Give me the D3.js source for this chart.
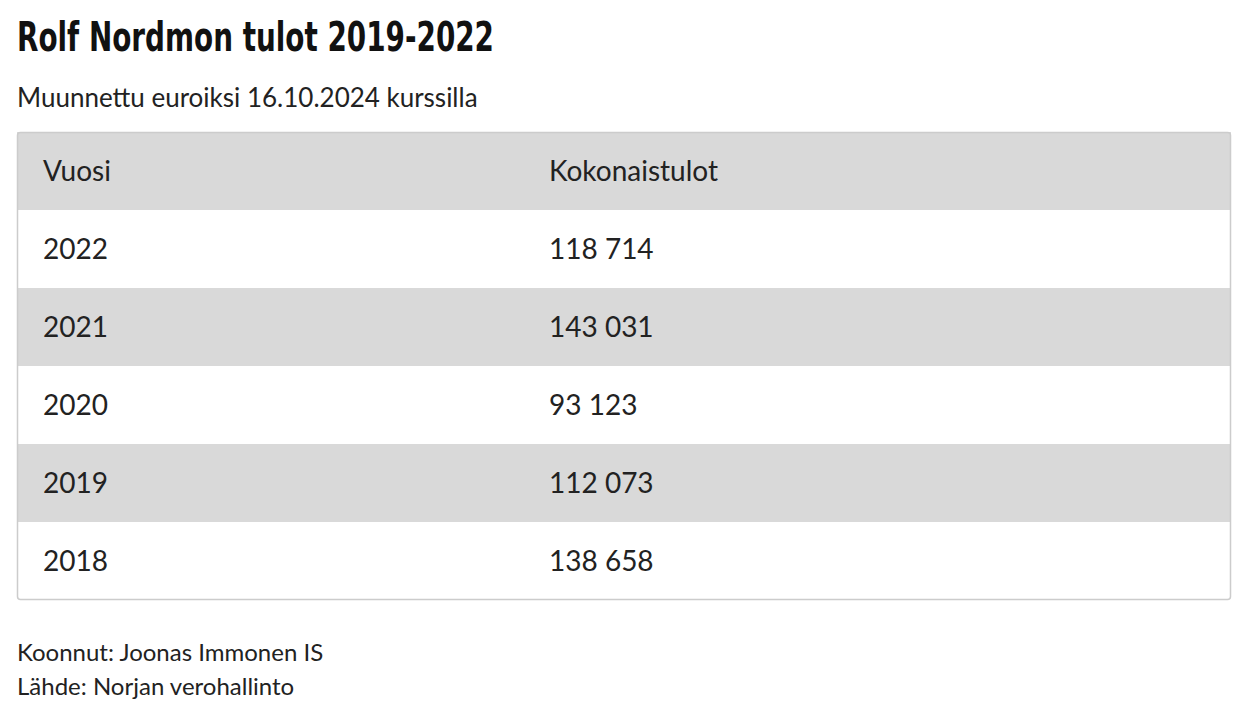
<!DOCTYPE html>
<html><head><meta charset="utf-8">
<script src="https://cdn.jsdelivr.net/npm/d3@7"></script>
<style>body{margin:0;background:#fff}</style>
</head><body><svg id="chart" width="1250" height="708"></svg>
<script>
const years = [2022, 2021, 2020, 2019, 2018];
const incomes = [118714, 143031, 93123, 112073, 138658];
const headers = ["Vuosi", "Kokonaistulot"];

const svg = d3.select("#chart");
const font = "Lato, 'Open Sans', sans-serif";
const tableLeft = 17, tableRight = 1231, tableTop = 132, rowH = 78;

svg.append("text").attr("x", 17).attr("y", 51)
  .attr("font-family", "'Liberation Sans Narrow', 'DejaVu Sans Condensed', sans-serif")
  .attr("font-weight", "bold").attr("font-size", 40).attr("fill", "#111")
  .attr("textLength", 477).attr("lengthAdjust", "spacingAndGlyphs")
  .text("Rolf Nordmon tulot 2019-2022");

svg.append("text").attr("x", 17).attr("y", 107)
  .attr("font-family", font).attr("font-size", 26).attr("fill", "#222")
  .text("Muunnettu euroiksi 16.10.2024 kurssilla");

const y = d3.scaleBand().domain(d3.range(years.length + 1)).range([tableTop, tableTop + rowH * (years.length + 1)]);
const x = d3.scaleOrdinal().domain([0, 1]).range([43, 549]);
const fmt = n => d3.format(",")(n).replace(/,/g, " ");

const rows = [headers].concat(years.map((yr, i) => [String(yr), fmt(incomes[i])]));

const g = svg.selectAll("g.row").data(rows).join("g").attr("class", "row");
g.append("rect").attr("x", tableLeft).attr("width", tableRight - tableLeft)
  .attr("y", (d, i) => y(i)).attr("height", y.bandwidth())
  .attr("fill", (d, i) => i % 2 === 0 ? "#d9d9d9" : "#fff");
g.selectAll("text").data((d, i) => d.map((t, j) => ({t, i, j}))).join("text")
  .attr("x", d => x(d.j)).attr("y", d => y(d.i) + rowH / 2 + 10)
  .attr("font-family", font).attr("font-size", 28).attr("fill", "#222")
  .text(d => d.t);

svg.append("rect").attr("x", tableLeft + 0.5).attr("y", tableTop + 0.5)
  .attr("width", tableRight - tableLeft - 1).attr("height", rowH * rows.length - 1)
  .attr("rx", 3).attr("fill", "none").attr("stroke", "#cccccc").attr("stroke-width", 1.5);

["Koonnut: Joonas Immonen IS", "Lähde: Norjan verohallinto"].forEach((t, i) => {
  svg.append("text").attr("x", 17).attr("y", 661 + i * 34)
    .attr("font-family", font).attr("font-size", 24).attr("fill", "#222").text(t);
});
</script></body></html>
